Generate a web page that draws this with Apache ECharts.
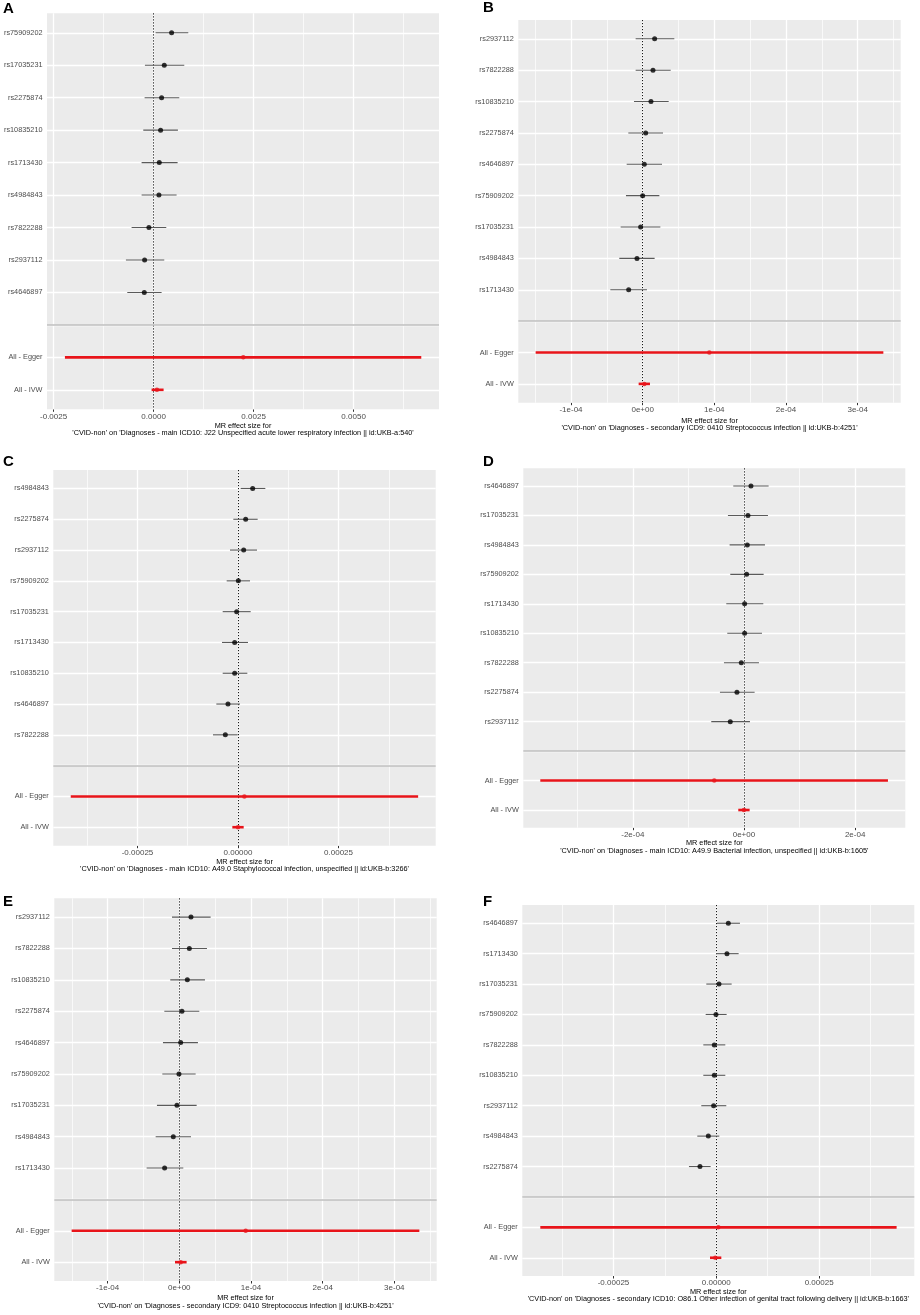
<!DOCTYPE html>
<html>
<head>
<meta charset="utf-8">
<title>MR forest plots</title>
<script src="https://cdn.jsdelivr.net/npm/echarts@6/dist/echarts.min.js"></script>
<style>
  body {margin:0; background:#fff;}
  #main {width:920px; height:1315px;}
</style>
</head>
<body>
<div id="main"></div>
<script>
// ---- data ----
var summaryRows = ['All - Egger', 'All - IVW'];

// A
var rowsA = ['rs75909202','rs17035231','rs2275874','rs10835210','rs1713430','rs4984843','rs7822288','rs2937112','rs4646897'];
var bA  = [0.00045, 0.000267, 0.0002, 0.000175, 0.000142, 0.000133, -0.000117, -0.000225, -0.000233, 0.002242, 0.000083];
var loA = [0.00005, -0.000217, -0.000225, -0.000258, -0.0003, -0.0003, -0.00055, -0.000692, -0.000658, -0.002217, -0.00005];
var upA = [0.000867, 0.000767, 0.000642, 0.000608, 0.0006, 0.000575, 0.000317, 0.000267, 0.0002, 0.006692, 0.00025];
var rangeA = [-0.002665, 0.007135];
var ticksA = [-0.0025, 0, 0.0025, 0.005];
var tickLabA = ['-0.0025', '0.0000', '0.0025', '0.0050'];
var minorA = [-0.00125, 0.00125, 0.00375, 0.00625];
var titleA = "'CVID-non' on 'Diagnoses - main ICD10: J22 Unspecified acute lower respiratory infection || id:UKB-a:540'";

// B
var rowsB = ['rs2937112','rs7822288','rs10835210','rs2275874','rs4646897','rs75909202','rs17035231','rs4984843','rs1713430'];
var bB  = [1.67e-5, 1.44e-5, 1.16e-5, 0.42e-5, 0.23e-5, 0, -0.28e-5, -0.79e-5, -1.95e-5, 9.3e-5, 0.23e-5];
var loB = [-0.98e-5, -0.98e-5, -1.21e-5, -2.0e-5, -2.23e-5, -2.33e-5, -3.07e-5, -3.26e-5, -4.51e-5, -14.93e-5, -0.56e-5];
var upB = [4.42e-5, 3.91e-5, 3.63e-5, 2.84e-5, 2.7e-5, 2.33e-5, 2.47e-5, 1.67e-5, 0.6e-5, 33.58e-5, 1.02e-5];
var rangeB = [-1.735e-4, 3.60e-4];
var ticksB = [-1e-4, 0, 1e-4, 2e-4, 3e-4];
var tickLabB = ['-1e-04', '0e+00', '1e-04', '2e-04', '3e-04'];
var minorB = [-1.5e-4, -0.5e-4, 0.5e-4, 1.5e-4, 2.5e-4, 3.5e-4];
var titleB = "'CVID-non' on 'Diagnoses - secondary ICD9: 0410 Streptococcus infection || id:UKB-b:4251'";

// C
var rowsC = ['rs4984843','rs2275874','rs2937112','rs75909202','rs17035231','rs1713430','rs10835210','rs4646897','rs7822288'];
var bC  = [3.65e-5, 1.91e-5, 1.41e-5, 0.08e-5, -0.33e-5, -0.83e-5, -0.83e-5, -2.49e-5, -3.15e-5, 1.58e-5, 0];
var loC = [0.66e-5, -1.16e-5, -1.99e-5, -2.82e-5, -3.81e-5, -3.98e-5, -3.81e-5, -5.39e-5, -6.22e-5, -41.6e-5, -1.41e-5];
var upC = [6.8e-5, 4.89e-5, 4.73e-5, 2.99e-5, 3.15e-5, 2.49e-5, 2.32e-5, 0.5e-5, -0.08e-5, 44.8e-5, 1.41e-5];
var rangeC = [-4.594e-4, 4.917e-4];
var ticksC = [-0.00025, 0, 0.00025];
var tickLabC = ['-0.00025', '0.00000', '0.00025'];
var minorC = [-0.000375, -0.000125, 0.000125, 0.000375];
var titleC = "'CVID-non' on 'Diagnoses - main ICD10: A49.0 Staphylococcal infection, unspecified || id:UKB-b:3266'";

// D
var rowsD = ['rs4646897','rs17035231','rs4984843','rs75909202','rs1713430','rs10835210','rs7822288','rs2275874','rs2937112'];
var bD  = [1.26e-5, 0.72e-5, 0.6e-5, 0.48e-5, 0.12e-5, 0.12e-5, -0.48e-5, -1.26e-5, -2.46e-5, -5.34e-5, 0];
var loD = [-1.92e-5, -2.88e-5, -2.58e-5, -2.46e-5, -3.18e-5, -3.0e-5, -3.6e-5, -4.32e-5, -5.88e-5, -36.64e-5, -1.02e-5];
var upD = [4.44e-5, 4.32e-5, 3.78e-5, 3.54e-5, 3.48e-5, 3.24e-5, 2.7e-5, 1.92e-5, 1.08e-5, 25.91e-5, 1.02e-5];
var rangeD = [-3.97e-4, 2.903e-4];
var ticksD = [-2e-4, 0, 2e-4];
var tickLabD = ['-2e-04', '0e+00', '2e-04'];
var minorD = [-3e-4, -1e-4, 1e-4];
var titleD = "'CVID-non' on 'Diagnoses - main ICD10: A49.9 Bacterial infection, unspecified || id:UKB-b:1605'";

// E
var rowsE = ['rs2937112','rs7822288','rs10835210','rs2275874','rs4646897','rs75909202','rs17035231','rs4984843','rs1713430'];
var bE  = [1.63e-5, 1.4e-5, 1.12e-5, 0.37e-5, 0.19e-5, -0.05e-5, -0.33e-5, -0.84e-5, -2.05e-5, 9.26e-5, 0.19e-5];
var loE = [-1.02e-5, -1.02e-5, -1.26e-5, -2.09e-5, -2.28e-5, -2.37e-5, -3.12e-5, -3.3e-5, -4.56e-5, -15.02e-5, -0.6e-5];
var upE = [4.37e-5, 3.86e-5, 3.58e-5, 2.79e-5, 2.6e-5, 2.28e-5, 2.42e-5, 1.63e-5, 0.56e-5, 33.49e-5, 1.02e-5];
var rangeE = [-1.744e-4, 3.591e-4];
var ticksE = [-1e-4, 0, 1e-4, 2e-4, 3e-4];
var tickLabE = ['-1e-04', '0e+00', '1e-04', '2e-04', '3e-04'];
var minorE = [-1.5e-4, -0.5e-4, 0.5e-4, 1.5e-4, 2.5e-4, 3.5e-4];
var titleE = "'CVID-non' on 'Diagnoses - secondary ICD9: 0410 Streptococcus infection || id:UKB-b:4251'";

// F
var rowsF = ['rs4646897','rs1713430','rs17035231','rs75909202','rs7822288','rs10835210','rs2937112','rs4984843','rs2275874'];
var bF  = [2.92e-5, 2.59e-5, 0.65e-5, -0.08e-5, -0.49e-5, -0.49e-5, -0.65e-5, -1.94e-5, -3.97e-5, 0.49e-5, -0.24e-5];
var loF = [0.16e-5, -0.08e-5, -2.43e-5, -2.59e-5, -3.16e-5, -3.16e-5, -3.65e-5, -4.62e-5, -6.65e-5, -42.79e-5, -1.54e-5];
var upF = [5.75e-5, 5.43e-5, 3.73e-5, 2.51e-5, 2.19e-5, 2.19e-5, 2.43e-5, 0.73e-5, -1.38e-5, 43.84e-5, 1.22e-5];
var rangeF = [-4.717e-4, 4.814e-4];
var ticksF = [-0.00025, 0, 0.00025];
var tickLabF = ['-0.00025', '0.00000', '0.00025'];
var minorF = [-0.000375, -0.000125, 0.000125, 0.000375];
var titleF = "'CVID-non' on 'Diagnoses - secondary ICD10: O86.1 Other infection of genital tract following delivery || id:UKB-b:1663'";

var panels = [
  {tag:'A', rows:rowsA, b:bA, lo:loA, up:upA, range:rangeA, ticks:ticksA, tickLab:tickLabA, minor:minorA, title:titleA},
  {tag:'B', rows:rowsB, b:bB, lo:loB, up:upB, range:rangeB, ticks:ticksB, tickLab:tickLabB, minor:minorB, title:titleB},
  {tag:'C', rows:rowsC, b:bC, lo:loC, up:upC, range:rangeC, ticks:ticksC, tickLab:tickLabC, minor:minorC, title:titleC},
  {tag:'D', rows:rowsD, b:bD, lo:loD, up:upD, range:rangeD, ticks:ticksD, tickLab:tickLabD, minor:minorD, title:titleD},
  {tag:'E', rows:rowsE, b:bE, lo:loE, up:upE, range:rangeE, ticks:ticksE, tickLab:tickLabE, minor:minorE, title:titleE},
  {tag:'F', rows:rowsF, b:bF, lo:loF, up:upF, range:rangeF, ticks:ticksF, tickLab:tickLabF, minor:minorF, title:titleF}
];

// ---- layout (page pixels) ----
var layout = [
  {left:47,    top:13.3,  width:392,   height:396,   gap:13,   tagX:3,   tagY:1},
  {left:518.3, top:20,    width:382.4, height:382.7, gap:14.3, tagX:483, tagY:0},
  {left:53.3,  top:470,   width:382.4, height:375.7, gap:12.6, tagX:3,   tagY:454},
  {left:523.3, top:468.3, width:382,   height:359.4, gap:12,   tagX:483, tagY:454},
  {left:54.3,  top:898.3, width:382.4, height:382.7, gap:13.6, tagX:3,   tagY:894},
  {left:522.3, top:905,   width:392,   height:371,   gap:12.3, tagX:483, tagY:894}
];

var FONT = '"Liberation Sans", Arial, sans-serif';
var chart = echarts.init(document.getElementById('main'), null, {renderer:'canvas'});
var option = {animation:false, backgroundColor:'#fff', grid:[], xAxis:[], yAxis:[], series:[], graphic:[]};

panels.forEach(function (p, k) {
  var L = layout[k];
  var n = p.rows.length;
  var labels = p.rows.concat([''], summaryRows);
  var rowPos = [];
  labels.forEach(function (s, i) { if (s !== '') rowPos.push(i + 1); });
  var allRows = labels.map(function (s, i) { return i + 1; });
  var sepRow = n + 1;

  option.grid.push({left:L.left, top:L.top, width:L.width, height:L.height,
    show:true, backgroundColor:'#EBEBEB', borderWidth:0, containLabel:false});

  option.xAxis.push({
    type:'value', gridIndex:k, min:p.range[0], max:p.range[1],
    axisLine:{show:false}, splitLine:{show:false},
    axisTick:{show:true, customValues:p.ticks, length:2.5, lineStyle:{color:'#333', width:1}},
    axisLabel:{customValues:p.ticks, margin:3, fontSize:8, color:'#4D4D4D', fontFamily:FONT,
      formatter:(function (t, lab) { return function (v) {
        for (var i = 0; i < t.length; i++) if (Math.abs(t[i] - v) < 1e-12) return lab[i];
        return '';
      }; })(p.ticks, p.tickLab)},
    name:'MR effect size for\n' + p.title, nameLocation:'middle', nameGap:L.gap,
    nameTextStyle:{fontSize:7.3, lineHeight:7.4, color:'#000', fontFamily:FONT}
  });

  option.yAxis.push({
    type:'value', gridIndex:k, min:0.4, max:labels.length + 0.6, inverse:true,
    axisLine:{show:false}, splitLine:{show:false},
    axisTick:{show:true, customValues:rowPos, length:2.5, lineStyle:{color:'#333', width:1}},
    axisLabel:{customValues:rowPos, margin:4.5, fontSize:7.3, color:'#4D4D4D', fontFamily:FONT,
      formatter:(function (lab) { return function (v) { return lab[Math.round(v) - 1] || ''; }; })(labels)}
  });

  // background grid lines, zero line and separator
  var ml = [];
  p.minor.forEach(function (v) { ml.push({xAxis:v, lineStyle:{color:'#fff', width:0.7, type:'solid'}}); });
  p.ticks.forEach(function (v) { ml.push({xAxis:v, lineStyle:{color:'#fff', width:1.3, type:'solid'}}); });
  allRows.forEach(function (r) { ml.push({yAxis:r, lineStyle:{color:'#fff', width:1.3, type:'solid'}}); });
  ml.push({xAxis:0, lineStyle:{color:'#1a1a1a', width:1, type:[1.2, 1.8]}});
  ml.push({yAxis:sepRow, lineStyle:{color:'#BEBEBE', width:1.5, type:'solid'}});

  var bars = [], ptsSnp = [], ptsAll = [];
  p.b.forEach(function (v, i) {
    var tot = i >= n ? 1 : 0;
    var y = tot ? i + 2 : i + 1;
    bars.push([p.lo[i], p.up[i], y, tot]);
    (tot ? ptsAll : ptsSnp).push([v, y]);
  });

  option.series.push({
    type:'custom', xAxisIndex:k, yAxisIndex:k, z:10, silent:true,
    data:bars, encode:{x:[0, 1], y:2},
    renderItem:function (params, api) {
      var a = api.coord([api.value(0), api.value(2)]);
      var c = api.coord([api.value(1), api.value(2)]);
      var tot = api.value(3);
      return {type:'line', shape:{x1:a[0], y1:a[1], x2:c[0], y2:c[1]},
        style:{stroke: tot ? '#E8141A' : '#5a5a5a', lineWidth: tot ? 2.6 : 1.1}};
    },
    markLine:{silent:true, precision:20, symbol:['none', 'none'], label:{show:false}, animation:false, data:ml}
  });
  option.series.push({type:'scatter', xAxisIndex:k, yAxisIndex:k, z:11, silent:true,
    data:ptsSnp, symbolSize:5, itemStyle:{color:'#000'}});
  option.series.push({type:'scatter', xAxisIndex:k, yAxisIndex:k, z:11, silent:true,
    data:ptsAll, symbolSize:4.5, itemStyle:{color:'#E8141A'}});

  option.graphic.push({type:'text', left:L.tagX, top:L.tagY,
    style:{text:p.tag, font:'bold 15px ' + FONT, fill:'#000'}});
});

chart.setOption(option);
</script>
</body>
</html>
